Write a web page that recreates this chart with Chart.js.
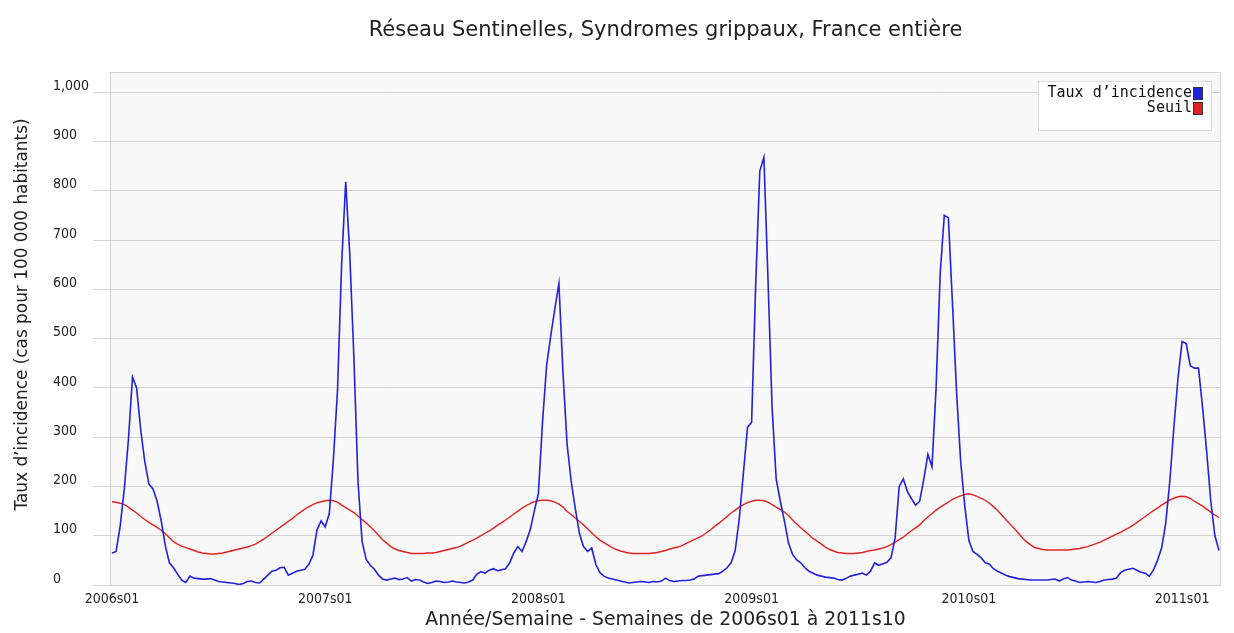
<!DOCTYPE html>
<html lang="fr">
<head>
<meta charset="utf-8">
<title>Réseau Sentinelles, Syndromes grippaux, France entière</title>
<script src="https://cdn.jsdelivr.net/npm/chart.js@4.4.1/dist/chart.umd.min.js"></script>
<style>
    html, body { margin: 0; padding: 0; background: #fff; }
    #wrap { width: 1234px; height: 633px; }
</style>
</head>
<body>
<div id="wrap"><canvas id="grippeChart" width="1234" height="633"></canvas></div>
<script>
// weeks per season, 2006s01 .. 2011s10
const weeksPerYear = [52, 52, 52, 53, 52, 10];
const tickLabels = ['2006s01', '2007s01', '2008s01', '2009s01', '2010s01', '2011s01'];
const yTicks = [0, 100, 200, 300, 400, 500, 600, 700, 800, 900, 1000];

// Taux d'incidence (cas pour 100 000 habitants)
const incidence2006 = [65, 68, 120, 195, 295, 422, 400, 315, 250, 205, 195, 170, 130, 80, 45, 35, 22, 10, 5, 18,
    14, 13, 12, 12, 13, 10, 7, 6, 5, 4, 3, 1, 3, 7, 8, 5, 4, 12, 20, 28, 30, 35, 36, 20, 24, 28, 30, 32, 42, 60, 112, 130];
const incidence2007 = [118, 145, 255, 395, 650, 818, 670, 460, 210, 88, 52, 40, 32, 20, 12, 10, 12, 14, 11, 12,
    15, 8, 11, 10, 6, 3, 5, 8, 7, 5, 6, 8, 6, 5, 4, 6, 10, 22, 27, 24, 30, 33, 29, 31, 33, 45, 65, 78, 68, 88, 112, 150];
const incidence2008 = [186, 330, 445, 505, 560, 612, 430, 285, 210, 155, 105, 78, 68, 75, 42, 25, 18, 14, 12, 10,
    8, 6, 4, 5, 6, 7, 6, 5, 7, 6, 8, 14, 9, 7, 8, 9, 9, 10, 12, 18, 19, 20, 21, 22, 23, 28, 35, 45, 70, 135, 227, 320];
const incidence2009 = [330, 610, 840, 868, 620, 360, 215, 170, 130, 85, 62, 51, 45, 35, 28, 24, 20, 18, 16, 15,
    14, 11, 10, 13, 18, 20, 22, 24, 20, 28, 45, 40, 43, 46, 55, 95, 200, 215, 190, 175, 162, 170, 215, 265, 240, 400,
    632, 750, 745, 570, 390, 250, 160];
const incidence2010 = [90, 68, 62, 55, 45, 42, 33, 28, 24, 20, 17, 15, 13, 12, 11, 10, 10, 10, 10, 10,
    11, 12, 8, 12, 15, 10, 8, 5, 6, 7, 6, 5, 7, 10, 11, 12, 14, 25, 30, 32, 34, 30, 26, 24, 18, 30, 50, 75, 125, 210, 320, 420];
const incidence2011 = [494, 490, 445, 440, 440, 360, 270, 170, 100, 70];

// Seuil épidémique
const seuil2006 = [169, 168, 166, 163, 158, 152, 146, 139, 133, 127, 122, 117, 111, 104, 96, 88, 83, 79, 76, 73,
    70, 67, 65, 64, 63, 63, 64, 65, 67, 69, 71, 73, 75, 77, 80, 83, 88, 93, 99, 105, 111, 117, 123, 129, 135, 142, 148, 154, 159, 163, 167, 169];
const seuil2007 = [171, 172, 171, 168, 162, 157, 152, 147, 140, 133, 126, 118, 110, 101, 92, 85, 78, 73, 70, 68,
    66, 64, 64, 64, 64, 65, 65, 66, 68, 70, 72, 74, 76, 79, 83, 87, 91, 95, 100, 105, 110, 115, 121, 126, 132, 138, 144, 150, 156, 161, 165, 169];
const seuil2008 = [171, 172, 172, 171, 168, 164, 158, 149, 143, 136, 129, 122, 114, 106, 98, 91, 86, 81, 76, 72,
    69, 67, 65, 64, 64, 64, 64, 64, 65, 66, 68, 70, 73, 75, 77, 80, 84, 88, 92, 96, 100, 106, 112, 119, 125, 132, 139, 146, 152, 158, 163, 167];
const seuil2009 = [170, 172, 172, 171, 168, 163, 158, 153, 148, 141, 132, 124, 116, 109, 102, 94, 89, 83, 77, 72,
    69, 66, 65, 64, 64, 64, 65, 66, 68, 70, 71, 73, 75, 78, 82, 87, 92, 97, 104, 110, 116, 122, 131, 138, 145, 152,
    158, 163, 168, 174, 178, 181, 184];
const seuil2010 = [185, 183, 180, 176, 172, 166, 159, 151, 142, 133, 124, 115, 106, 96, 88, 82, 76, 74, 72, 71,
    71, 71, 71, 71, 71, 72, 73, 74, 76, 78, 81, 84, 87, 91, 95, 99, 103, 107, 112, 116, 121, 127, 133, 139, 145, 151, 156, 162, 167, 172, 176, 179];
const seuil2011 = [180, 179, 176, 170, 165, 160, 154, 148, 142, 137];

(function() {
    'use strict';

    const incidence = [].concat(incidence2006, incidence2007, incidence2008, incidence2009, incidence2010, incidence2011);
    const seuil = [].concat(seuil2006, seuil2007, seuil2008, seuil2009, seuil2010, seuil2011);

    // index of week 01 of each year
    const tickWeeks = [];
    let offset = 0;
    weeksPerYear.forEach((n) => {
        tickWeeks.push(offset);
        offset += n;
    });

    const toPoints = (values) => values.map((v, i) => ({ x: i, y: v }));

    const tickFont = { family: "'Liberation Sans Narrow', 'DejaVu Sans Condensed', sans-serif", size: 14 };
    const textFont = "'DejaVu Sans', 'Open Sans', sans-serif";

    const plotFrame = {
        id: 'plotFrame',
        afterLayout(chart) {
            // the axis title sits a little above the middle of the plot
            const t = chart.scales.yTitle;
            if (t) {
                t.bottom -= 28;
            }
        },
        beforeDraw(chart) {
            const { ctx, chartArea: a } = chart;
            ctx.save();
            ctx.fillStyle = '#f8f8f8';
            ctx.fillRect(a.left, a.top, a.right - a.left, a.bottom - a.top);
            ctx.strokeStyle = '#d6d6d6';
            ctx.lineWidth = 1;
            ctx.strokeRect(a.left + 0.5, a.top + 0.5, a.right - a.left - 1, a.bottom - a.top);
            ctx.restore();
        }
    };

    const boxLegend = {
        id: 'boxLegend',
        afterDraw(chart) {
            const { ctx, chartArea: a } = chart;
            const right = a.right - 9;
            const top = a.top + 9;
            const width = 174;
            const height = 50;
            ctx.save();
            ctx.fillStyle = '#ffffff';
            ctx.fillRect(right - width, top, width, height);
            ctx.strokeStyle = '#dddddd';
            ctx.strokeRect(right - width + 0.5, top + 0.5, width - 1, height - 1);
            ctx.font = "15px 'DejaVu Sans Mono', monospace";
            ctx.textAlign = 'right';
            ctx.textBaseline = 'alphabetic';
            chart.data.datasets.forEach((ds, i) => {
                const y = top + 16 + i * 15;
                ctx.fillStyle = '#111111';
                ctx.fillText(ds.label, right - 20, y);
                ctx.fillStyle = ds.borderColor;
                ctx.fillRect(right - 19, y - 10, 10, 13);
                ctx.strokeStyle = '#333333';
                ctx.strokeRect(right - 18.5, y - 9.5, 9, 12);
            });
            ctx.restore();
        }
    };

    function initChart() {
        const canvas = document.getElementById('grippeChart');
        if (typeof Chart === 'undefined' || !canvas) {
            return;
        }

        new Chart(canvas, {
            type: 'line',
            data: {
                datasets: [{
                    label: 'Taux d\u2019incidence',
                    data: toPoints(incidence),
                    borderColor: '#2222dd',
                    borderWidth: 1.6,
                    pointRadius: 0,
                    tension: 0
                }, {
                    label: 'Seuil',
                    data: toPoints(seuil),
                    borderColor: '#e22222',
                    borderWidth: 1.4,
                    pointRadius: 0,
                    tension: 0
                }]
            },
            options: {
                responsive: false,
                animation: false,
                devicePixelRatio: 1,
                layout: { padding: { left: 0, right: 13, top: 0, bottom: 0 } },
                plugins: {
                    legend: { display: false },
                    tooltip: { enabled: false },
                    title: {
                        display: true,
                        fullSize: false,
                        text: 'Réseau Sentinelles, Syndromes grippaux, France entière',
                        color: '#222',
                        font: { family: textFont, size: 21, weight: 'normal' },
                        padding: { top: 17.5, bottom: 29.3 }
                    }
                },
                scales: {
                    x: {
                        type: 'linear',
                        min: -0.49,
                        max: 270.49,
                        afterBuildTicks: (scale) => { scale.ticks = tickWeeks.map((v) => ({ value: v })); },
                        afterFit: (scale) => { scale.height = 48; },
                        grid: { display: false, drawTicks: false },
                        border: { display: false },
                        ticks: {
                            autoSkip: false,
                            maxRotation: 0,
                            padding: 6,
                            color: '#222',
                            font: tickFont,
                            callback: (value, index) => tickLabels[index]
                        },
                        title: {
                            display: true,
                            text: 'Année/Semaine - Semaines de 2006s01 à 2011s10',
                            color: '#222',
                            font: { family: textFont, size: 18.8 },
                            padding: { top: 0, bottom: 2 }
                        }
                    },
                    y: {
                        min: 0,
                        max: 1041,
                        weight: 0,
                        afterBuildTicks: (scale) => { scale.ticks = yTicks.map((v) => ({ value: v })); },
                        afterFit: (scale) => { scale.width = 57; },
                        grid: { color: '#d4d4d4', tickColor: '#d4d4d4', tickLength: 17 },
                        border: { color: '#d4d4d4' },
                        ticks: {
                            crossAlign: 'far',
                            padding: 4,
                            labelOffset: -6,
                            color: '#222',
                            font: tickFont,
                            callback: (value) => value.toLocaleString('en-US')
                        }
                    },
                    yTitle: {
                        position: 'left',
                        weight: 1,
                        afterFit: (scale) => { scale.width = 53; },
                        grid: { display: false, drawTicks: false },
                        border: { display: false },
                        ticks: { display: false },
                        title: {
                            display: true,
                            text: 'Taux d\u2019incidence (cas pour 100 000 habitants)',
                            color: '#222',
                            font: { family: textFont, size: 16.9 },
                            padding: { top: 12, bottom: 0 }
                        }
                    }
                }
            },
            plugins: [plotFrame, boxLegend]
        });
    }

    if (document.readyState === 'loading') {
        document.addEventListener('DOMContentLoaded', initChart);
    } else {
        initChart();
    }
})();
</script>
</body>
</html>
